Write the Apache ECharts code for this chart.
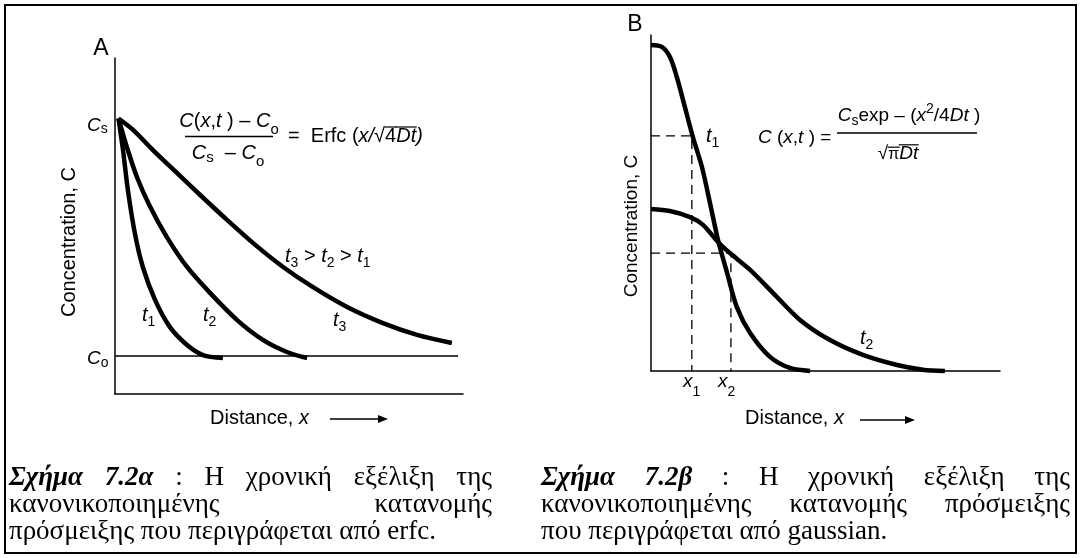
<!DOCTYPE html>
<html><head><meta charset="utf-8">
<script src="https://cdn.jsdelivr.net/npm/echarts@6/dist/echarts.min.js"></script>
<style>html,body{margin:0;padding:0;background:#fff}#c{width:1081px;height:558px}</style>
</head><body><div id="c"></div>
<script>
// ---- Panel A (erfc profiles), x/y in arbitrary units (0..10) ----
const erfcT1 = [[0.1,8.2],[0.23,7.26],[0.37,6.07],[0.57,4.79],[0.80,3.78],[1.15,2.80],[1.58,1.99],[2.07,1.46],[2.53,1.16],[3.10,1.07]];
const erfcT2 = [[0.1,8.2],[0.34,7.35],[0.63,6.46],[1.01,5.57],[1.49,4.67],[2.07,3.78],[2.73,3.01],[3.51,2.20],[4.25,1.61],[4.94,1.25],[5.52,1.07]];
const erfcT3 = [[0.1,8.2],[0.52,7.86],[1.09,7.26],[1.78,6.58],[2.44,5.93],[3.22,5.18],[3.97,4.49],[4.83,3.78],[5.69,3.18],[6.67,2.59],[7.70,2.11],[8.68,1.76],[9.68,1.52]];
const baseLineA = [[0,1.13],[9.86,1.13]];
// ---- Panel B (gaussian profiles) ----
const gaussT1 = [[0,9.70],[0.32,9.64],[0.54,9.35],[0.74,8.75],[0.97,7.86],[1.20,6.96],[1.46,6.07],[1.69,5.00],[1.92,3.90],[2.18,2.92],[2.46,1.90],[2.84,1.13],[3.41,0.42],[3.98,0.09],[4.56,0]];
const gaussT2 = [[0,4.82],[0.54,4.76],[1.12,4.58],[1.49,4.35],[1.92,3.84],[2.26,3.51],[2.84,3.01],[3.50,2.32],[4.27,1.52],[5.13,0.92],[6.07,0.48],[7.05,0.18],[7.79,0.04],[8.42,0]];
const guideX = [1.17, 2.29];
const guideY = [7.0, 3.51];

const SANS = '"Liberation Sans", Arial, sans-serif';
const SERIF = '"Liberation Serif", "Times New Roman", serif';
const mctx = document.createElement('canvas').getContext('2d');
function fontStr(s){ return (s.it?'italic ':'')+(s.b?'bold ':'')+(s.fs||20)+'px '+(s.ff||SANS); }
function measure(s){ mctx.font = fontStr(s); return mctx.measureText(s.t).width; }
const G = [];
function txt(x, base, s, align){
  const fs = s.fs||20;
  G.push({type:'text', x:x, y: base + (s.dy||0) - 0.345*fs, silent:true,
    style:{text:s.t, font:fontStr(s), fill:'#000', align:align||'left', verticalAlign:'middle'}});
}
function seq(x, base, segs, align){
  const ws = segs.map(measure);
  const w = ws.reduce((a,b)=>a+b,0);
  let cx = align==='center' ? x - w/2 : (align==='right' ? x - w : x);
  segs.forEach((s,i)=>{
    txt(cx, base, s);
    if (s.over){
      const fs = s.fs||20;
      G.push({type:'line', silent:true, shape:{x1:cx-0.5, y1:base-0.80*fs, x2:cx+ws[i]+0.5, y2:base-0.80*fs}, style:{stroke:'#000', lineWidth:1.2}});
    }
    cx += ws[i];
  });
}
function hline(x1,x2,y,w){ G.push({type:'line', silent:true, shape:{x1,y1:y,x2,y2:y}, style:{stroke:'#000', lineWidth:w||1.3}}); }
function arrow(x1,x2,y){
  hline(x1, x2-6, y, 1.5);
  G.push({type:'polygon', silent:true, shape:{points:[[x2,y],[x2-10,y-4],[x2-10,y+4]]}, style:{fill:'#000'}});
}
function justify(words, x0, x1, base, fs){
  const ss = words.map(w => (typeof w === 'string') ? {t:w} : w);
  ss.forEach(s => { s.fs = fs; s.ff = SERIF; });
  const ws = ss.map(measure);
  const gap = (x1 - x0 - ws.reduce((a,b)=>a+b,0)) / (ss.length - 1);
  let cx = x0;
  ss.forEach((s,i)=>{ txt(cx, base, s); cx += ws[i] + gap; });
}
const sub = (t, dy, fs) => ({t, fs: fs||14, dy: dy==null?5:dy});

// ---- Panel A texts ----
seq(101, 57, [{t:'A', fs:23}], 'center');
seq(87, 132, [{t:'C', it:1, fs:19}, sub('s',2)]);
seq(87, 365, [{t:'C', it:1, fs:19}, sub('o',3)]);
seq(229, 128, [{t:'C',it:1},{t:'('},{t:'x',it:1},{t:','},{t:'t',it:1},{t:' ) – '},{t:'C',it:1},sub('o',7,15)], 'center');
hline(185, 273, 136.5, 1.3);
seq(228, 160, [{t:'C',it:1},sub('s',3,15),{t:'  – '},{t:'C',it:1},sub('o',7,15)], 'center');
seq(288, 143, [{t:'=  Erfc ('},{t:'x/',it:1},{t:'√'},{t:'4',over:1},{t:'Dt',it:1,over:1},{t:')',it:1}]);
seq(285, 263, [{t:'t',it:1},sub('3'),{t:' > '},{t:'t',it:1},sub('2'),{t:' > '},{t:'t',it:1},sub('1')]);
seq(142, 322, [{t:'t',it:1},sub('1')]);
seq(203, 322, [{t:'t',it:1},sub('2')]);
seq(333, 327, [{t:'t',it:1},sub('3')]);
seq(210, 425, [{t:'Distance, '},{t:'x',it:1}]);
arrow(330, 388, 419);
G.push({type:'text', x:69, y:242, rotation:Math.PI/2, silent:true,
  style:{text:'Concentration, C', font:'20px '+SANS, fill:'#000', align:'center', verticalAlign:'middle'}});

// ---- Panel B texts ----
seq(635, 33, [{t:'B', fs:23}], 'center');
G.push({type:'text', x:632, y:226, rotation:Math.PI/2, silent:true,
  style:{text:'Concentration, C', font:'19px '+SANS, fill:'#000', align:'center', verticalAlign:'middle'}});
seq(706, 143, [{t:'t',it:1},sub('1')]);
seq(860, 345, [{t:'t',it:1},sub('2')]);
seq(683, 388, [{t:'x',it:1,fs:19},sub('1',9)]);
seq(718, 388, [{t:'x',it:1,fs:19},sub('2',9)]);
seq(745, 425, [{t:'Distance, '},{t:'x',it:1}]);
arrow(860, 915, 420);
seq(758, 144, [{t:'C',it:1,fs:19},{t:' (',fs:19},{t:'x',it:1,fs:19},{t:',',fs:19},{t:'t',it:1,fs:19},{t:' ) =',fs:19}]);
seq(909, 122, [{t:'C',it:1,fs:19},sub('s',4),{t:'exp – (',fs:19},{t:'x',it:1,fs:19},sub('2',-8),{t:'/4',fs:19},{t:'Dt',it:1,fs:19},{t:' )',fs:19}], 'center');
hline(837, 977, 133, 1.3);
seq(898, 160, [{t:'√',fs:19},{t:'π',over:1,fs:16},{t:'Dt',it:1,over:1,fs:19}], 'center');

// ---- Captions ----
const CF = 27;
justify([{t:'Σχήμα',b:1,it:1},{t:'7.2α',b:1,it:1},':','Η','χρονική','εξέλιξη','της'], 9, 492, 487, CF);
justify(['κανονικοποιημένης','κατανομής'], 9, 492, 514, CF);
txt(9, 541, {t:'πρόσμειξης που περιγράφεται από erfc.', fs:CF, ff:SERIF});
justify([{t:'Σχήμα',b:1,it:1},{t:'7.2β',b:1,it:1},':','Η','χρονική','εξέλιξη','της'], 541, 1070, 487, CF);
justify(['κανονικοποιημένης','κατανομής','πρόσμειξης'], 541, 1070, 514, CF);
txt(541, 541, {t:'που περιγράφεται από gaussian.', fs:CF, ff:SERIF});

// border
G.push({type:'rect', silent:true, shape:{x:5, y:5, width:1071, height:548}, style:{fill:'none', stroke:'#000', lineWidth:2}});

const axisCommon = {axisTick:{show:false}, axisLabel:{show:false}, splitLine:{show:false},
  axisLine:{show:true, onZero:false, lineStyle:{color:'#000', width:1.5}}};
const curve = (data, xi) => ({type:'line', xAxisIndex:xi, yAxisIndex:xi, data, showSymbol:false, symbol:'none',
  smooth:0.3, clip:false, lineStyle:{color:'#000', width:4.5, cap:'butt', join:'round'}, silent:true, z:3});
const dashData = [[[0,guideY[0]],[guideX[0],guideY[0]],[guideX[0],0]], [[0,guideY[1]],[guideX[1],guideY[1]],[guideX[1],0]]];

const chart = echarts.init(document.getElementById('c'), null, {renderer:'canvas'});
chart.setOption({
  animation:false,
  backgroundColor:'#fff',
  grid:[{left:115, top:58, width:348, height:336}, {left:651, top:35, width:349, height:336}],
  xAxis:[Object.assign({type:'value', gridIndex:0, min:0, max:10}, axisCommon),
         Object.assign({type:'value', gridIndex:1, min:0, max:10}, axisCommon)],
  yAxis:[Object.assign({type:'value', gridIndex:0, min:0, max:10}, axisCommon),
         Object.assign({type:'value', gridIndex:1, min:0, max:10}, axisCommon)],
  series:[
    curve(erfcT1,0), curve(erfcT2,0), curve(erfcT3,0),
    {type:'line', xAxisIndex:0, yAxisIndex:0, data:baseLineA, symbol:'none', lineStyle:{color:'#000', width:1.5}, silent:true},
    curve(gaussT1,1), curve(gaussT2,1),
    {type:'line', xAxisIndex:1, yAxisIndex:1, data:dashData[0], symbol:'none', clip:false, lineStyle:{color:'#000', width:1.3, type:[9,6]}, silent:true},
    {type:'line', xAxisIndex:1, yAxisIndex:1, data:dashData[1], symbol:'none', clip:false, lineStyle:{color:'#000', width:1.3, type:[9,6]}, silent:true}
  ],
  graphic: G
});
</script>
</body></html>
